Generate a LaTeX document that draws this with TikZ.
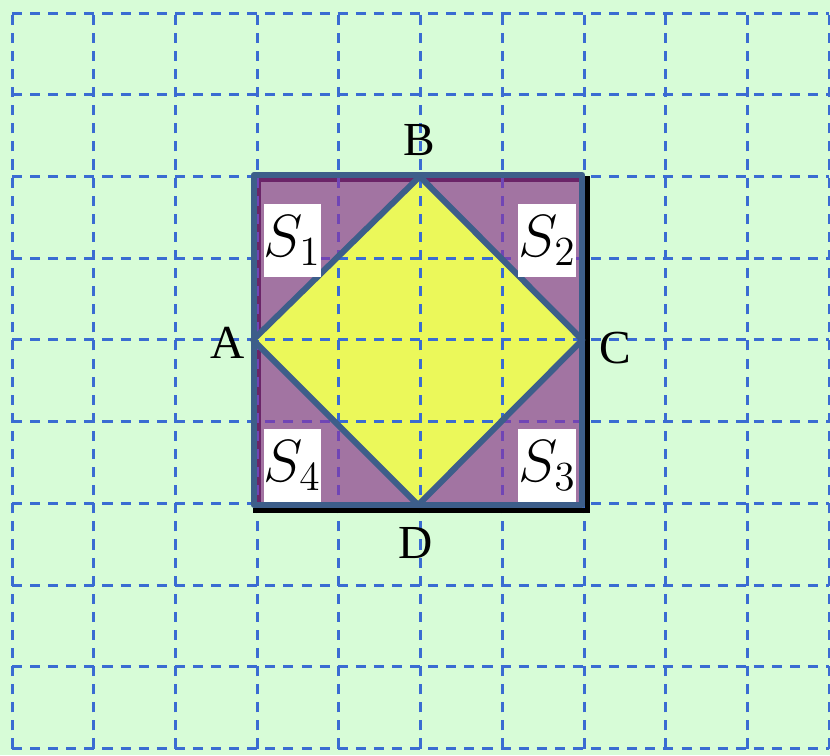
\documentclass[tikz,border=0pt]{standalone}
\usepackage{fontspec}
\newfontfamily\lblfont{Liberation Serif}
\definecolor{bgc}{HTML}{D7FCD7}
\definecolor{gridc}{HTML}{3A6CD2}
\definecolor{gridp}{HTML}{7045B5}
\definecolor{purp}{HTML}{A274A2}
\definecolor{dpurp}{HTML}{6B2468}
\definecolor{yel}{HTML}{EBF85A}
\definecolor{edgec}{HTML}{3D5E8A}
\tikzset{
  gridline/.style={line width=1.05pt, dash pattern=on 3.5pt off 2.8pt},
  edgeline/.style={draw=edgec, line width=2.1pt, line join=round},
  pt/.style={font=\lblfont\fontsize{16.5}{18}\selectfont, inner sep=0pt},
  sbox/.style={fill=white, minimum width=0.62cm, minimum height=0.89cm, inner sep=0pt, font=\fontsize{19.5}{22}\selectfont}
}
\begin{document}
\begin{tikzpicture}[x=1cm,y=1cm]
\fill[bgc] (-0.147,-0.08) rectangle (10.01,9.16);
\useasboundingbox (-0.147,-0.08) rectangle (10.01,9.16);
% grid
\draw[gridline, gridc] (0,0) grid (10,9);
% corners and vertices
\coordinate (SW) at (2.96,2.98);
\coordinate (SE) at (6.98,2.98);
\coordinate (NE) at (6.98,7.02);
\coordinate (NW) at (2.96,7.02);
\coordinate (A) at (2.95,5.0);
\coordinate (B) at (4.99,7.0);
\coordinate (C) at (6.98,5.0);
\coordinate (D) at (4.97,2.98);
% black shadow
\draw[black, line width=1.8pt] (7.044,7.005) -- (7.044,2.917) -- (2.95,2.917);
% purple square
\fill[purp] (SW) rectangle (NE);
\draw[dpurp, line width=1.3pt] (3.02,2.98) -- (3.02,6.96) -- (6.98,6.96);
\begin{scope}
\clip (SW) rectangle (NE);
\draw[gridline, gridp] (0,0) grid (10,9);
\end{scope}
% yellow diamond
\fill[yel] (A) -- (B) -- (C) -- (D) -- cycle;
\begin{scope}
\clip (A) -- (B) -- (C) -- (D) -- cycle;
\draw[gridline, gridc] (0,0) grid (10,9);
\end{scope}
% outlines
\draw[edgeline] (SW) rectangle (NE);
\draw[edgeline] (A) -- (B) -- (C) -- (D) -- cycle;
% labels
\node[pt] (lA) at (2.64,4.97) {A};
\node[pt] (lB) at (4.99,7.45) {B};
\node[pt] (lC) at (7.38,4.90) {C};
\node[pt] (lD) at (4.94,2.51) {D};
\node[sbox] (s1) at (3.43,6.22) {$S_1$};
\node[sbox] (s2) at (6.55,6.22) {$S_2$};
\node[sbox] (s3) at (6.55,3.46) {$S_3$};
\node[sbox] (s4) at (3.43,3.46) {$S_4$};
\end{tikzpicture}
\end{document}
